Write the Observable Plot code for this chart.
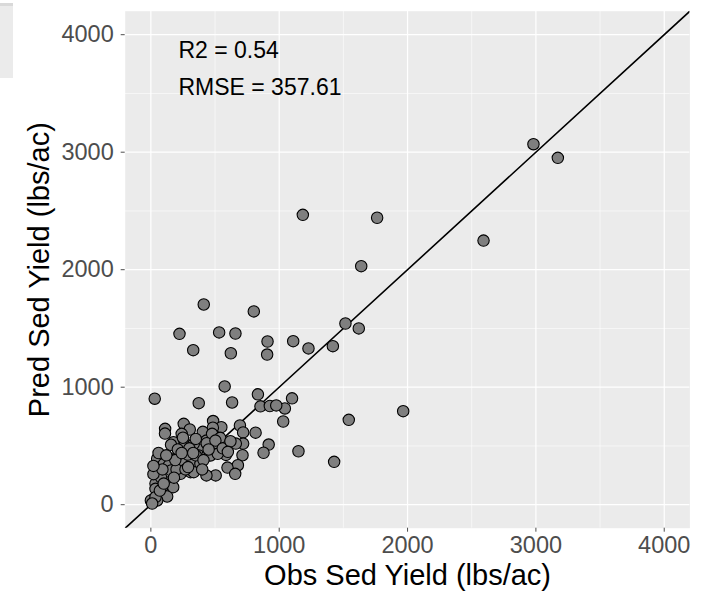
<!DOCTYPE html>
<html>
<head>
<meta charset="utf-8">
<script src="https://cdn.jsdelivr.net/npm/d3@7"></script>
<script src="https://cdn.jsdelivr.net/npm/@observablehq/plot@0.6"></script>
<style>
  html, body { margin: 0; padding: 0; background: white; }
  #wrap { position: relative; width: 711px; height: 595px; }
  #stub { position: absolute; left: 0; top: 3px; width: 13px; height: 75px; background: #ebebeb; border-top: 3px solid #d9d9d9; box-sizing: border-box; }
</style>
</head>
<body>
<div id="wrap"><div id="stub"></div></div>
<script>
const obs = [1184,1763,1639,412,802,2981,3171,2592,1966,1516,1620,1109,1228,1418,1100,1044,1031,1542,1150,1428,
  223,532,659,330,623,909,906,575,30,373,633,834,854,927,977,816,918,878,694,719,
  485,549,483,719,662,714,678,585,597,657,405,433,530,395,
  111,110,256,303,240,477,540,176,157,265,334,435,503,505,433,49,54,101,140,205,
  256,322,373,386,439,464,309,334,231,158,140,36,36,49,23,127,174,0,49,36,288,521,
  80,20,90,200,270,350,410,300,210,250,350,560,620,10,70,100,190,240,290,60,120,180,20,450,600,400,330];
const pred = [2467,2442,2030,1704,1645,3068,2952,2248,796,1542,1500,1392,1330,1349,905,819,708,722,455,365,
  1454,1466,1457,1315,1289,1389,1278,1007,902,864,870,939,837,840,845,613,512,442,674,615,
  712,660,655,520,520,421,336,424,316,263,620,546,505,470,
  646,605,688,640,603,603,569,532,510,515,518,523,546,249,249,391,276,348,334,404,
  348,360,419,348,419,419,277,277,263,291,192,180,135,64,50,70,149,36,36,64,427,433,
  230,260,300,300,300,420,380,480,470,570,560,480,540,10,120,180,380,440,320,440,420,230,330,470,450,300,440];

const xDomain = [-200, 4200];
const yDomain = [-200, 4200];
const majorTicks = [0, 1000, 2000, 3000, 4000];
const minorTicks = [500, 1500, 2500, 3500];

const annText = ["R2 = 0.54", "RMSE = 357.61"];
const annX = [215, 215];
const annY = [3866, 3551];

const data = obs.map((o, i) => ({obs: o, pred: pred[i]}));
const oneToOne = [{x: xDomain[0], y: yDomain[0]}, {x: xDomain[1], y: yDomain[1]}];
const ann = annText.map((t, i) => ({t, x: annX[i], y: annY[i]}));
const plain = d => String(d);

const chart = Plot.plot({
  width: 711,
  height: 595,
  marginLeft: 124.7,
  marginRight: 21.6,
  marginTop: 10.7,
  marginBottom: 67.3,
  x: {domain: xDomain},
  y: {domain: yDomain},
  style: {fontFamily: "'Liberation Sans', Arial, sans-serif", background: "white"},
  marks: [
    Plot.frame({fill: "#ebebeb", stroke: null}),
    Plot.gridX(minorTicks, {stroke: "white", strokeOpacity: 1, strokeWidth: 0.6}),
    Plot.gridY(minorTicks, {stroke: "white", strokeOpacity: 1, strokeWidth: 0.6}),
    Plot.gridX(majorTicks, {stroke: "white", strokeOpacity: 1, strokeWidth: 1.2}),
    Plot.gridY(majorTicks, {stroke: "white", strokeOpacity: 1, strokeWidth: 1.2}),
    Plot.line(oneToOne, {x: "x", y: "y", stroke: "black", strokeWidth: 1.6, clip: true}),
    Plot.dot(data, {x: "obs", y: "pred", r: 5.7, fill: "#7f7f7f", stroke: "black", strokeWidth: 1.1}),
    Plot.text(ann, {x: "x", y: "y", text: "t", textAnchor: "start", fontSize: 23, fill: "black"}),
    Plot.axisX(majorTicks, {tickSize: 4, tickPadding: 4, fontSize: 23.5, color: "#4d4d4d", label: null, tickFormat: plain}),
    Plot.axisY(majorTicks, {tickSize: 4, tickPadding: 7.5, fontSize: 23.5, color: "#4d4d4d", label: null, tickFormat: plain}),
    Plot.text(["Obs Sed Yield (lbs/ac)"], {frameAnchor: "bottom", dy: 57, textAnchor: "middle", fontSize: 29, fill: "black"}),
    Plot.text(["Pred Sed Yield (lbs/ac)"], {frameAnchor: "left", dx: -85, textAnchor: "middle", rotate: -90, fontSize: 29, fill: "black"})
  ]
});
document.getElementById("wrap").appendChild(chart);
</script>
</body>
</html>
